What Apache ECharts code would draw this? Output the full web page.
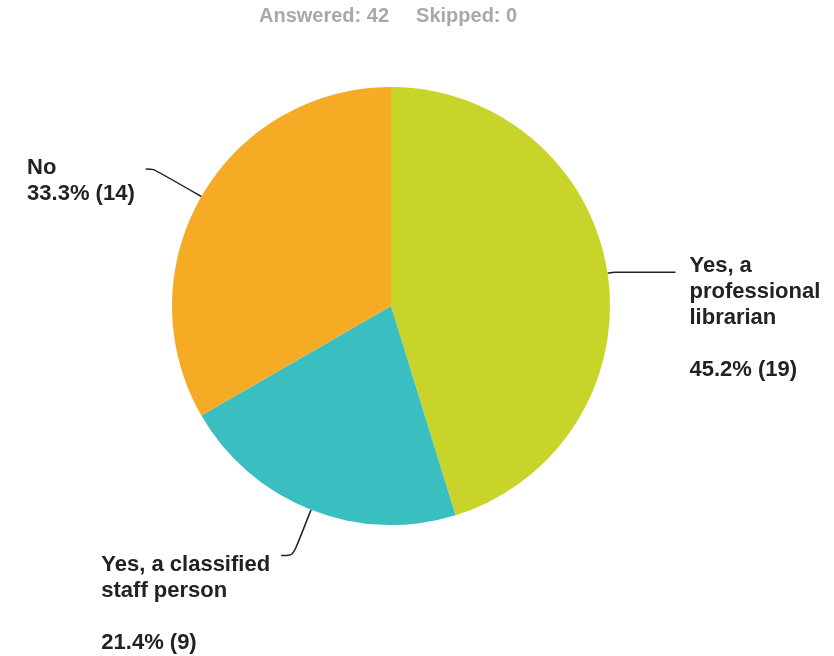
<!DOCTYPE html>
<html><head><meta charset="utf-8">
<script src="https://cdn.jsdelivr.net/npm/echarts@6/dist/echarts.min.js"></script>
<style>html,body{margin:0;padding:0;background:#fff}#c{width:834px;height:656px}</style>
</head><body><div id="c"></div>
<script>
// ---- data ----
const categories = ['Yes, a professional librarian', 'Yes, a classified staff person', 'No'];
const labelTexts = [['Yes, a', 'professional', 'librarian'], ['Yes, a classified', 'staff person'], ['No']];
const counts = [19, 9, 14];
const skipped = 0;

// ---- styling / layout (not data) ----
const colors = ['#C9D42B', '#3BBEC0', '#F5AB23'];
const labelCfg = [
  { len1: 8,  len2: 60, padTop: 92, blank: true,  dist: 14 },
  { len1: 49, len2: 12, padTop: 96, blank: true,  dist: 11 },
  { len1: 55, len2: 8,  padTop: 23, blank: false, dist: 11 }
];
const FONT = '"Liberation Sans", Arial, Helvetica, sans-serif';
const answered = counts.reduce((a, b) => a + b, 0);

const chart = echarts.init(document.getElementById('c'), null, { renderer: 'canvas' });
chart.setOption({
  animation: false,
  backgroundColor: '#fff',
  title: {
    left: 259, top: 4, padding: 0,
    text: '{a|Answered: ' + answered + '}{b|Skipped: ' + skipped + '}',
    textStyle: {
      rich: {
        a: { fontFamily: FONT, fontWeight: 'bold', fontSize: 20, color: '#a8a8a8', lineHeight: 24 },
        b: { fontFamily: FONT, fontWeight: 'bold', fontSize: 20, color: '#a8a8a8', lineHeight: 24, padding: [0, 0, 0, 27] }
      }
    }
  },
  series: [{
    type: 'pie',
    center: [391, 306],
    radius: 219,
    startAngle: 90,
    clockwise: true,
    avoidLabelOverlap: false,
    silent: true,
    itemStyle: { borderWidth: 0 },
    label: {
      show: true, position: 'outside', alignTo: 'none',
      distanceToLabelLine: 11, bleedMargin: 0, overflow: 'none',
      fontFamily: FONT, fontWeight: 'bold', fontSize: 22, lineHeight: 26, color: '#222',
      rich: { t: { align: 'left', fontFamily: FONT, fontWeight: 'bold', fontSize: 22, lineHeight: 26, color: '#222' } }
    },
    labelLine: { show: true, smooth: 0.3, lineStyle: { color: '#222', width: 1.5 } },
    data: counts.map((v, i) => ({
      value: v,
      name: categories[i],
      itemStyle: { color: colors[i] },
      label: {
        padding: [labelCfg[i].padTop, 0, 0, 0],
        distanceToLabelLine: labelCfg[i].dist,
        formatter: (p) => '{t|' + labelTexts[i].join('\n') + (labelCfg[i].blank ? '\n\n' : '\n') +
          (v / answered * 100).toFixed(1) + '% (' + v + ')}'
      },
      labelLine: { length: labelCfg[i].len1, length2: labelCfg[i].len2 }
    }))
  }]
});
</script></body></html>
